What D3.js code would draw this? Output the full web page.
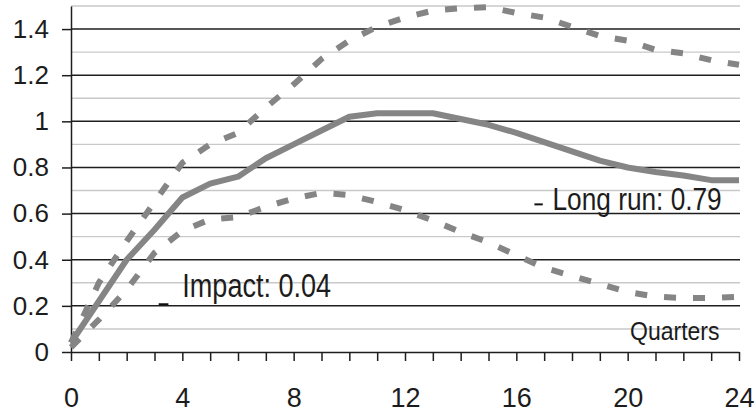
<!DOCTYPE html>
<html>
<head>
<meta charset="utf-8">
<script src="https://cdn.jsdelivr.net/npm/d3@7/dist/d3.min.js"></script>
<style>
  html, body { margin: 0; padding: 0; background: #fff; }
  svg { display: block; }
  text { font-family: "Liberation Sans", Arial, Helvetica, sans-serif; fill: #1c1c1c; }
</style>
</head>
<body>
<svg id="chart" width="756" height="414"></svg>
<script>
// ---- data ----
const quarters = [0,1,2,3,4,5,6,7,8,9,10,11,12,13,14,15,16,17,18,19,20,21,22,23,24];
const median = [0.04,0.22,0.40,0.53,0.67,0.73,0.76,0.84,0.90,0.96,1.02,1.035,1.035,1.035,1.01,0.985,0.95,0.91,0.87,0.83,0.80,0.78,0.765,0.745,0.745];
const upper  = [0.04,0.30,0.48,0.65,0.82,0.90,0.95,1.06,1.16,1.27,1.35,1.41,1.45,1.48,1.49,1.495,1.47,1.45,1.41,1.37,1.35,1.31,1.295,1.265,1.245];
const lower  = [0.02,0.14,0.27,0.43,0.525,0.575,0.585,0.63,0.665,0.69,0.68,0.65,0.615,0.57,0.52,0.475,0.42,0.365,0.33,0.295,0.26,0.24,0.234,0.234,0.24];
const yMajorTicks = [0,0.2,0.4,0.6,0.8,1,1.2,1.4];
const yMinorTicks = [0.1,0.3,0.5,0.7,0.9,1.1,1.3,1.5];
const xLabelTicks = [0,4,8,12,16,20,24];
const impactLabel = "Impact: 0.04";
const longRunLabel = "Long run: 0.79";
const xAxisTitle = "Quarters";

(function () {
// ---- layout ----
const svg = d3.select("#chart");
const mLeft = 71, mRight = 739, mTop = 6, mBottom = 352;
const x = d3.scaleLinear().domain([0, 24]).range([mLeft, mRight]);
const y = d3.scaleLinear().domain([0, 1.5]).range([mBottom, mTop]);
const gridRight = mRight + 1;

// minor gridlines
svg.append("g").selectAll("line").data(yMinorTicks).join("line")
  .attr("x1", mLeft).attr("x2", gridRight)
  .attr("y1", d => y(d)).attr("y2", d => y(d))
  .attr("stroke", "#c9c9c9").attr("stroke-width", 1.4);

// major gridlines
svg.append("g").selectAll("line").data(yMajorTicks.filter(d => d > 0)).join("line")
  .attr("x1", mLeft).attr("x2", gridRight)
  .attr("y1", d => y(d)).attr("y2", d => y(d))
  .attr("stroke", "#1e1e1e").attr("stroke-width", 1.5);

// y axis
const fmt = d => String(+d.toFixed(1));
const yAxis = svg.append("g").attr("transform", `translate(${mLeft},0)`)
  .call(d3.axisLeft(y).tickValues(yMajorTicks).tickSize(9).tickSizeOuter(0).tickPadding(13).tickFormat(fmt));
yAxis.selectAll("text").style("font-size", "26px").attr("fill", "#1c1c1c");
yAxis.selectAll("line, path").attr("stroke", "#1e1e1e").attr("stroke-width", 1.5);

// x axis
const xAxis = svg.append("g").attr("transform", `translate(0,${mBottom})`)
  .call(d3.axisBottom(x).tickValues(quarters).tickSize(9).tickSizeOuter(0).tickPadding(27)
    .tickFormat(d => xLabelTicks.includes(d) ? String(d) : ""));
xAxis.selectAll("text").style("font-size", "27px").attr("fill", "#1c1c1c");
xAxis.selectAll("line, path").attr("stroke", "#1e1e1e").attr("stroke-width", 1.5);

// lines
const line = d3.line().x((d, i) => x(quarters[i])).y(d => y(d));
const lineColor = "#858585";
svg.append("path").datum(upper).attr("d", line)
  .attr("fill", "none").attr("stroke", lineColor).attr("stroke-width", 6)
  .attr("stroke-dasharray", "12,17");
svg.append("path").datum(lower).attr("d", line)
  .attr("fill", "none").attr("stroke", lineColor).attr("stroke-width", 6)
  .attr("stroke-dasharray", "12,17");
svg.append("path").datum(median).attr("d", line)
  .attr("fill", "none").attr("stroke", lineColor).attr("stroke-width", 6)
  .attr("stroke-linejoin", "round");

// annotations
function label(txt, px, py, size, sx, anchor) {
  svg.append("text")
    .attr("transform", `translate(${px},${py}) scale(${sx},1)`)
    .attr("text-anchor", anchor || "start")
    .style("font-size", size + "px")
    .text(txt);
}
label(impactLabel, x(4), y(0.24), 33, 0.82);
svg.append("line").attr("x1", x(3.15)).attr("x2", x(3.5)).attr("y1", y(0.207)).attr("y2", y(0.207))
  .attr("stroke", "#111").attr("stroke-width", 2);
label(longRunLabel, x(17.3), y(0.615), 32, 0.82);
svg.append("line").attr("x1", x(16.65)).attr("x2", x(16.95)).attr("y1", y(0.64)).attr("y2", y(0.64))
  .attr("stroke", "#111").attr("stroke-width", 2);
label(xAxisTitle, x(23.3), y(0.052), 25, 0.92, "end");
})();
</script>
</body>
</html>
